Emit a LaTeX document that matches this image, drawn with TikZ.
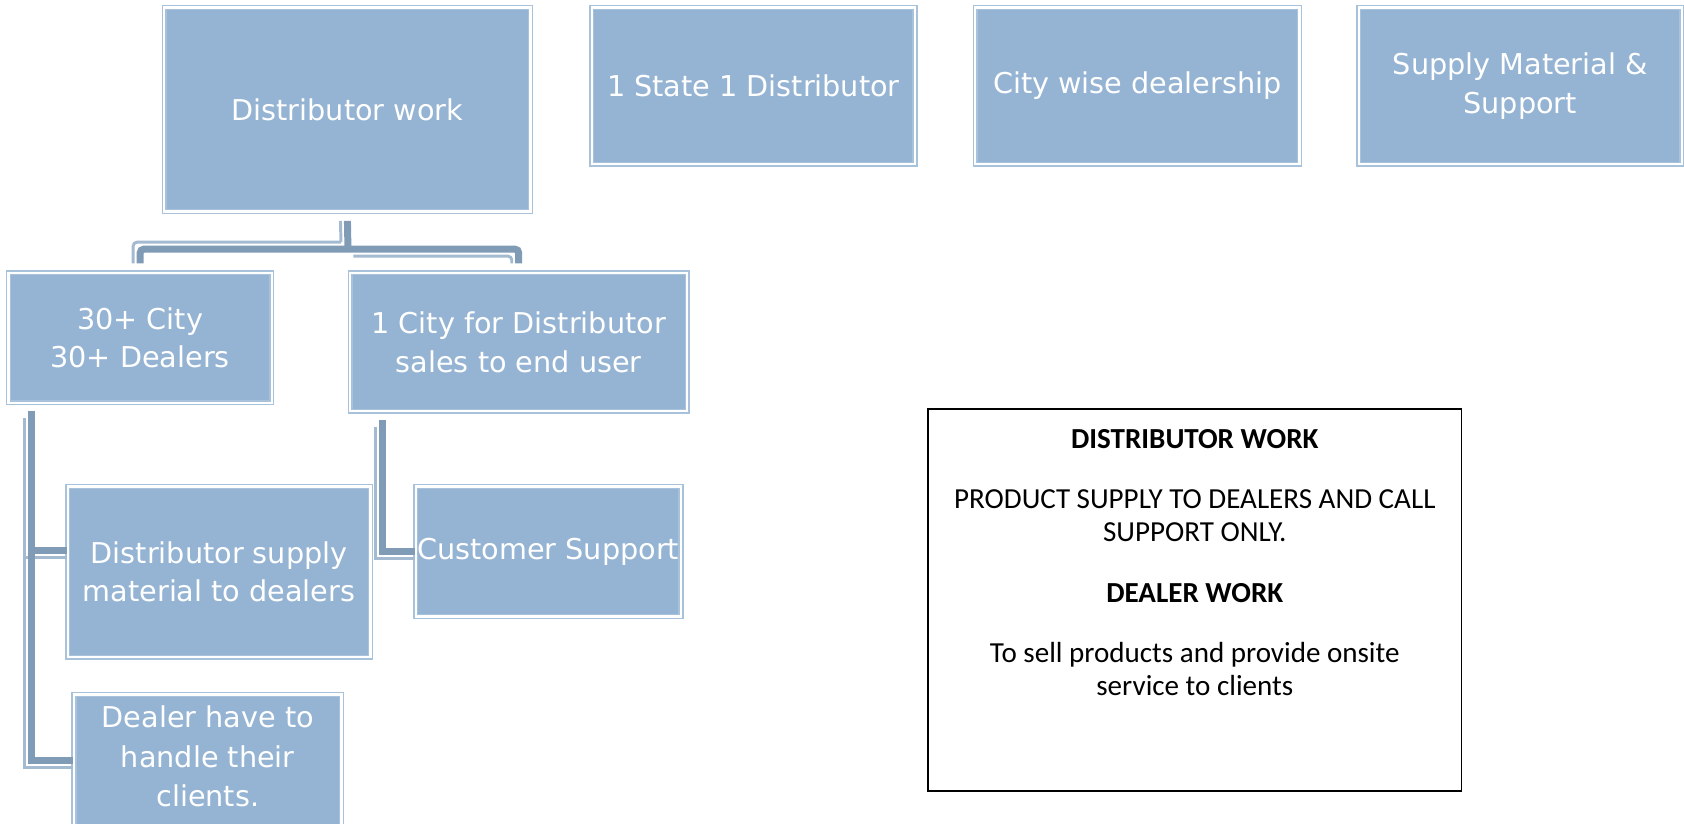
\documentclass[tikz,border=0pt]{standalone}
\usepackage{fontspec}
\usepackage{tikz}
\usetikzlibrary{positioning}
\newfontfamily\boxfont{DejaVu Sans}
\newfontfamily\notefont{Carlito}
\definecolor{boxfill}{HTML}{95B4D3}
\definecolor{boxedge}{HTML}{A9C2DC}
\definecolor{linkdark}{HTML}{7F9BB5}
\definecolor{linklight}{HTML}{A3BAD0}
\tikzset{
	box/.style={rectangle, fill=boxfill, draw=boxedge, double=white, double distance=1.2pt, line width=0.8pt,
		text=white, font=\boxfont\fontsize{15.2}{20.5}\selectfont, align=center, inner sep=0pt},
	link/.style={draw=linkdark, line width=0.13cm},
	linkedge/.style={draw=linklight, line width=0.055cm},
	notebox/.style={rectangle, draw=black, line width=0.8pt, inner sep=0pt,
		font=\notefont\fontsize{15.4}{17.5}\selectfont}
}

\begin{document}
\begin{tikzpicture}[x=0.02cm, y=-0.02cm]
	\useasboundingbox (0,0) rectangle (1568,767);

	% top row
	\node[box, minimum width=6.82cm, minimum height=3.8cm] (dw) at (323.5,102) {Distributor work};
	\node[box, minimum width=6.02cm, minimum height=2.92cm] (state) at (701.5,80) {1 State 1 Distributor};
	\node[box, minimum width=6.04cm, minimum height=2.92cm] (city) at (1059,80) {City wise dealership};
	\node[box, minimum width=6.02cm, minimum height=2.92cm] (supply) at (1415.5,80) {Supply Material \&\\Support};

	% second level
	\node[box, minimum width=4.9cm, minimum height=2.42cm] (c30) at (130.5,314.5) {30+ City\\30+ Dealers};
	\node[box, minimum width=6.28cm, minimum height=2.58cm] (c1) at (483,318.5) {1 City for Distributor\\sales to end user};

	% third level
	\node[box, minimum width=5.64cm, minimum height=3.18cm] (dsup) at (204,532.5) {Distributor supply\\material to dealers};
	\node[box, minimum width=4.94cm, minimum height=2.42cm] (cs) at (510.5,513.5) {Customer Support};
	\node[box, anchor=north] (dealer) at (193.5,646)
		{\parbox[c][3.8cm][t]{4.98cm}{\centering\fontsize{15.2}{21}\selectfont\vspace*{6pt}Dealer have to\\handle their\\clients.}};

	% connectors
	\coordinate (bus) at (324,232);
	\coordinate (cityleg) at ([xshift=0.44cm,yshift=-0.14cm]c30.south west);
	\coordinate (userleg) at ([xshift=0.62cm,yshift=-0.14cm]c1.south west);
	\coordinate (supplyend) at ([yshift=0.4cm]dsup.west);
	\coordinate (dealerend) at ([yshift=-1.24cm]dealer.north west);
	% light edges
	\draw[linkedge] ([shift={(-0.13cm,-0.13cm)}]cityleg) |- ([yshift=-0.13cm]supplyend);
	\draw[linkedge] ([shift={(-0.13cm,-0.13cm)}]cityleg) |- ([yshift=-0.13cm]dealerend);
	\draw[linkedge] ([shift={(-0.13cm,-0.13cm)}]userleg) |- ([yshift=-0.13cm]cs.west);
	\draw[linkedge] ([shift={(-0.13cm,-0.16cm)}]dw.south) -- ([shift={(-0.13cm,0.13cm)}]bus);
	\draw[linkedge, rounded corners=2pt] ([shift={(-0.13cm,0.16cm)}]c30.north) |- ([shift={(-0.13cm,0.13cm)}]bus);
	\draw[linkedge, rounded corners=2pt] ([shift={(0.1cm,-0.13cm)}]bus) -| ([shift={(-0.13cm,0.16cm)}]c1.north);
	% main lines
	\draw[link] ([yshift=-0.16cm]dw.south) -- (bus);
	\draw[link, rounded corners=2pt] ([yshift=0.16cm]c30.north) |- (bus) -| ([yshift=0.16cm]c1.north);
	\draw[link] (cityleg) |- (supplyend);
	\draw[link] (cityleg) |- (dealerend);
	\draw[link] (userleg) |- (cs.west);

	% note
	\node[notebox, anchor=north] (note) at (1112.5,380)
		{\parbox[c][7.12cm][t]{9.94cm}{\centering\vspace*{11pt}%
			\textbf{DISTRIBUTOR WORK}\par\vspace{14pt}
			PRODUCT SUPPLY TO DEALERS AND CALL\\SUPPORT ONLY.\par\vspace{15pt}
			\textbf{DEALER WORK}\par\vspace{14.5pt}
			To sell products and provide onsite\\service to clients\par}};
\end{tikzpicture}
\end{document}
